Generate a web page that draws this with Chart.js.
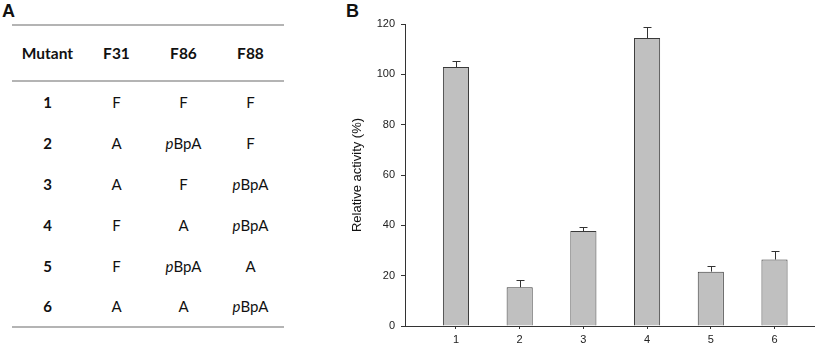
<!DOCTYPE html>
<html lang="en">
<head>
    <meta charset="UTF-8">
    <title>Relative activity of mutants</title>
    <script src="https://cdn.jsdelivr.net/npm/chart.js"></script>
    <style>
        body { margin: 0; width: 816px; height: 348px; position: relative; background: #fff; overflow: hidden; }
        .panel-label { position: absolute; font: bold 18px "Liberation Sans", Arial, sans-serif; color: #111; line-height: 18px; }
        #mutTable { position: absolute; left: 12px; top: 24px; border-collapse: collapse; font-family: Lato, "Open Sans", sans-serif; font-size: 15px; color: #111; }
        #mutTable th, #mutTable td { text-align: center; padding: 0; }
        #mutTable thead tr { height: 56px; border-top: 2px solid #b4b4b4; border-bottom: 2px solid #b4b4b4; }
        #mutTable tbody tr { height: 41px; }
        #mutTable tbody tr:last-child { border-bottom: 2px solid #b4b4b4; }
        #mutTable th { font-weight: bold; font-size: 15.5px; }
        #mutTable td:first-child { font-weight: bold; }
        #chartBox { position: absolute; left: 330px; top: 0; width: 486px; height: 348px; }
    </style>
</head>
<body>
    <div class="panel-label" style="left:2px; top:2px;">A</div>
    <div class="panel-label" style="left:346px; top:2px;">B</div>

    <table id="mutTable">
        <colgroup><col style="width:71px"><col style="width:67px"><col style="width:67px"><col style="width:67px"></colgroup>
        <thead><tr id="headRow"></tr></thead>
        <tbody id="tableBody"></tbody>
    </table>

    <div id="chartBox"><canvas id="myChart"></canvas></div>

    <script>
        // table (panel A)
        const headers = ["Mutant", "F31", "F86", "F88"];
        const mutants = ["1", "2", "3", "4", "5", "6"];
        const f31 = ["F", "A", "A", "F", "F", "A"];
        const f86 = ["F", "pBpA", "F", "A", "pBpA", "A"];
        const f88 = ["F", "F", "pBpA", "pBpA", "A", "pBpA"];

        // chart (panel B)
        const categories = [1, 2, 3, 4, 5, 6];
        const activity = [102.9, 15.4, 37.7, 114.4, 21.6, 26.4];
        const errors = [2.4, 3.0, 1.6, 4.3, 2.3, 3.3];
        const yTicks = [0, 20, 40, 60, 80, 100, 120];

        function cellHtml(txt) {
            return txt === "pBpA" ? "<i>p</i>BpA" : txt;
        }

        document.getElementById('headRow').innerHTML = headers.map(h => `<th>${h}</th>`).join('');
        document.getElementById('tableBody').innerHTML = mutants.map((m, i) =>
            `<tr><td>${m}</td><td>${cellHtml(f31[i])}</td><td>${cellHtml(f86[i])}</td><td>${cellHtml(f88[i])}</td></tr>`
        ).join('');

        const axisColor = '#333';
        const font = { family: '"Liberation Sans", Arial, sans-serif', size: 11 };

        // draws the upper error bar on each column
        const errorBars = {
            id: 'errorBars',
            afterDatasetsDraw(chart) {
                const ctx = chart.ctx;
                const xs = chart.scales.x, ys = chart.scales.y;
                ctx.save();
                ctx.strokeStyle = axisColor;
                ctx.lineWidth = 1;
                categories.forEach((c, i) => {
                    const x = Math.round(xs.getPixelForValue(c)) + 0.5;
                    const yTop = Math.round(ys.getPixelForValue(activity[i] + errors[i])) + 0.5;
                    const yBar = ys.getPixelForValue(activity[i]);
                    ctx.beginPath();
                    ctx.moveTo(x, yBar);
                    ctx.lineTo(x, yTop);
                    ctx.moveTo(x - 4, yTop);
                    ctx.lineTo(x + 4, yTop);
                    ctx.stroke();
                });
                ctx.restore();
            }
        };

        const ctx = document.getElementById('myChart').getContext('2d');
        const chart = new Chart(ctx, {
            type: 'bar',
            data: {
                datasets: [{
                    data: categories.map((c, i) => ({ x: c, y: activity[i] })),
                    backgroundColor: '#c0c0c0',
                    borderColor: '#3a3a3a',
                    borderWidth: 1,
                    barPercentage: 0.41,
                    categoryPercentage: 1
                }]
            },
            options: {
                responsive: true,
                maintainAspectRatio: false,
                animation: false,
                layout: { padding: { top: 24, right: 2, left: 0, bottom: 0 } },
                plugins: { legend: { display: false }, tooltip: { enabled: false } },
                scales: {
                    x: {
                        type: 'linear',
                        min: 0.2,
                        max: 6.62,
                        offset: false,
                        afterBuildTicks: s => { s.ticks = categories.map(v => ({ value: v })); },
                        afterFit: s => { s.height = 22; },
                        grid: { display: true, offset: false, drawOnChartArea: false, drawTicks: true, tickLength: 3, color: axisColor },
                        border: { display: true, color: axisColor },
                        ticks: { color: '#222', font: font, padding: 4 }
                    },
                    y: {
                        min: 0,
                        max: 120,
                        afterBuildTicks: s => { s.ticks = yTicks.map(v => ({ value: v })); },
                        afterFit: s => { s.width = 75; },
                        grid: { display: true, drawOnChartArea: false, drawTicks: true, tickLength: 4, color: axisColor },
                        border: { display: true, color: axisColor },
                        ticks: { color: '#222', font: font, padding: 6 },
                        title: {
                            display: true,
                            text: 'Relative activity (%)',
                            color: '#111',
                            font: { family: font.family, size: 13 },
                            padding: { top: 20, bottom: 0 }
                        }
                    }
                }
            },
            plugins: [errorBars]
        });
    </script>
</body>
</html>
